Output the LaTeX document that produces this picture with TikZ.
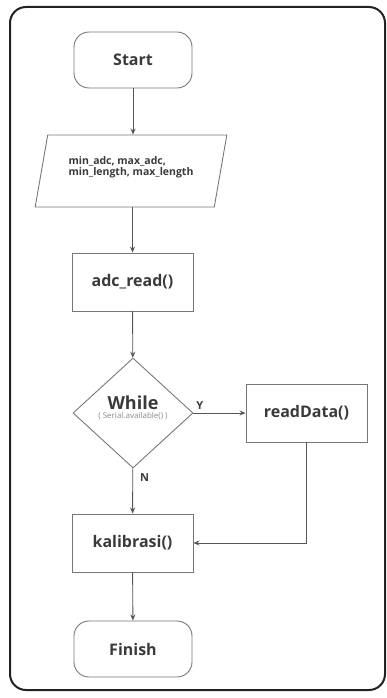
\documentclass[tikz,border=0pt]{standalone}
\usepackage{fontspec}
\setmainfont{Open Sans}
\usetikzlibrary{shapes.geometric,arrows.meta}
\definecolor{framec}{HTML}{222222}
\definecolor{shapec}{HTML}{777777}
\definecolor{linec}{HTML}{555555}
\definecolor{textc}{HTML}{3A3A3A}
\definecolor{subc}{HTML}{8A8A8A}
\tikzset{
  base/.style={draw=shapec, line width=0.9pt, text=textc, font=\bfseries, inner sep=0pt},
  term/.style={base, rectangle, rounded corners=15pt, minimum width=118pt, minimum height=56pt, font=\fontsize{16}{19}\selectfont\bfseries},
  proc/.style={base, rectangle, minimum width=121pt, minimum height=58pt, font=\fontsize{16}{19}\selectfont\bfseries},
  io/.style={base, trapezium, trapezium left angle=72, trapezium right angle=108, trapezium stretches=true, minimum width=192pt, minimum height=72pt, align=left, font=\fontsize{10.5}{11.5}\selectfont\bfseries},
  dec/.style={base, diamond, aspect=1.09, minimum width=120pt, minimum height=110pt, align=center},
  conn/.style={draw=linec, line width=0.9pt, -{Stealth[length=6pt,width=5pt]}},
  lbl/.style={text=textc, font=\fontsize{11}{13}\selectfont\bfseries, inner sep=0pt}
}
\begin{document}
\begin{tikzpicture}[x=1pt,y=-1pt]
\useasboundingbox (0,0) rectangle (387,698);
\draw[framec, line width=2pt, rounded corners=16pt] (10,7) rectangle (385,690);
\node[term] (start) at (133,60) {Start};
\node[io] (par) at (131,171) {min\_adc, max\_adc,\\min\_length, max\_length\\[-2pt]};
\node[proc] (adc) at (132.5,282) {adc\_read()};
\node[dec] (wh) at (133,413) {{\fontsize{18}{20}\selectfont\bfseries While}\\[-3pt]{\fontsize{8}{9}\selectfont\mdseries\color{subc}( Serial.available() )}\\[0pt]};
\node[proc] (rd) at (306.5,413) {readData()};
\node[proc] (kal) at (132.5,543) {kalibrasi()};
\node[term] (fin) at (133,649) {Finish};
\draw[conn] (start) -- (start |- par.north);
\draw[conn] (par.south -| adc) -- (adc);
\draw[conn] (adc) -- (wh);
\draw[conn] (wh) -- node[lbl, pos=0.12, anchor=south, yshift=3pt] (ylab) {Y} (rd);
\draw[conn] (wh) -- node[lbl, pos=0.2, anchor=west, xshift=7pt] (nlab) {N} (kal);
\draw[conn] (rd.south) |- (kal.east);
\draw[conn] (kal) -- (fin);
\end{tikzpicture}
\end{document}
